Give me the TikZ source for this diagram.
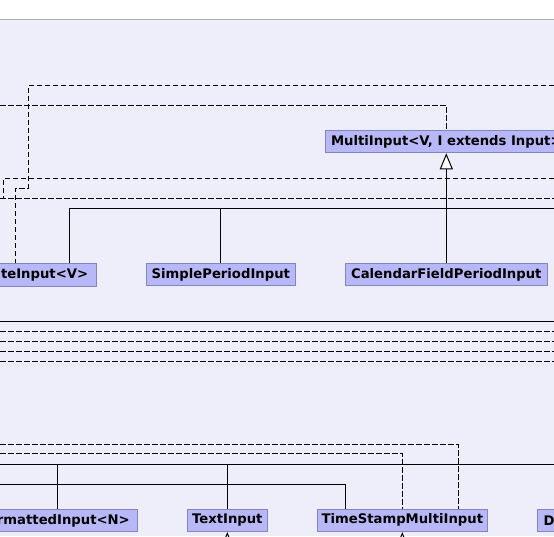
\documentclass[tikz,border=0pt]{standalone}
\usepackage{fontspec}
\setmainfont{DejaVu Sans}
\usetikzlibrary{arrows.meta}
\definecolor{pagebg}{HTML}{EEEEFB}
\definecolor{rulegray}{HTML}{A9A9B8}
\definecolor{boxfill}{HTML}{B8B8F8}
\definecolor{boxline}{HTML}{8585BE}
\tikzset{
  cls/.style={draw=boxline, fill=boxfill, line width=1pt, inner sep=0pt,
    minimum height=22.5pt, text=black,
    font=\bfseries\fontsize{13.2}{15}\selectfont},
  lbl/.style={inner sep=0pt, text=black, font=\bfseries\fontsize{13.2}{15}\selectfont},
  dep/.style={draw=black, line width=1pt, dash pattern=on 5.5pt off 2.5pt},
  gen/.style={draw=black, line width=1pt},
  inh/.style={gen, -{Triangle[length=16pt, width=13pt, fill=white, line width=1pt]}}
}
\begin{document}
\begin{tikzpicture}[x=1pt, y=-1pt]
\useasboundingbox (0,0) rectangle (554,536);
\clip (0,0) rectangle (554,536);
% page background and header rule
\fill[white] (0,0) rectangle (554,536);
\fill[pagebg] (0,19.5) rectangle (554,536);
\draw[rulegray, line width=1pt] (0,19.5) -- (554,19.5);

% classes, upper row
\node[cls, minimum width=242pt] (multi) at (446.3,141.5) {MultiInput<V, I extends Input>};
\draw[boxline, fill=boxfill, line width=1pt] (-10,263.3) rectangle (96.7,286);
\node[lbl, anchor=east] (composite) at (88.3,274.8) {iteInput<V>};
\node[cls, minimum width=149pt] (simple) at (220.8,274.7) {SimplePeriodInput};
\node[cls, minimum width=202pt] (calendar) at (446.3,274.7) {CalendarFieldPeriodInput};

% classes, lower row
\draw[boxline, fill=boxfill, line width=1pt] (-10,509.3) rectangle (137.3,531.3);
\node[lbl, anchor=east] (formatted) at (130,520.5) {rmattedInput<N>};
\node[cls, minimum width=80pt] (text) at (227.3,520.3) {TextInput};
\node[cls, minimum width=170pt] (stamp) at (402.3,520.3) {TimeStampMultiInput};
\draw[boxline, fill=boxfill, line width=1pt] (537.3,509.3) rectangle (600,531.3);
\node[lbl, anchor=west] (dinput) at (543.3,520.5) {D};

% free ends at the picture border
\coordinate (r85) at (554,85.5);
\coordinate (l105) at (0,105.3);
\coordinate (r178) at (554,178.3);
\coordinate (l198) at (0,198.3);
\coordinate (r198) at (554,198.3);
\coordinate (r208) at (554,208.3);
\coordinate (l444) at (0,444.3);
\coordinate (l454) at (0,453.7);
\coordinate (l464) at (0,464.3);
\coordinate (r464) at (554,464.3);
\coordinate (l484) at (0,484.3);
\coordinate (textbelow) at (227.3,560);
\coordinate (stampbelow) at (402.3,560);

% upper dependencies
\draw[dep] (r85) -- (28.3,85.5) -- (28.3,188.3) -- (15.3,188.3) -- (15.3,263.3);
\draw[dep] (l105) -| (multi.north);
\draw[dep] (r178) -- (3.3,178.3) -- (3.3,198.3);
\draw[dep] (l198) -- (r198);

% upper generalizations
\draw[gen] (69.3,263.3) |- (r208);
\draw[gen] (simple.north) -- (simple.north |- r208);
\draw[inh] (calendar.north) -- (multi.south);

% middle band of long connectors
\foreach \yy in {331.3,341.3,351.3,361.3}
  \draw[dep] (0,\yy) -- (554,\yy);
\draw[gen] (0,321.3) -- (554,321.3);

% lower dependencies
\draw[dep] (l444) -| (458.3,509.3);
\draw[dep] (l454) -| (stamp.north);

% lower generalizations
\draw[gen] (l464) -- (r464);
\draw[gen] (57.3,509.3) -- (57.3,464.3);
\draw[gen] (text.north) -- (text.north |- r464);
\draw[gen] (l484) -| (345.7,509.3);
\draw[inh] (textbelow) -- (text.south);
\draw[inh] (stampbelow) -- (stamp.south);
\end{tikzpicture}
\end{document}
